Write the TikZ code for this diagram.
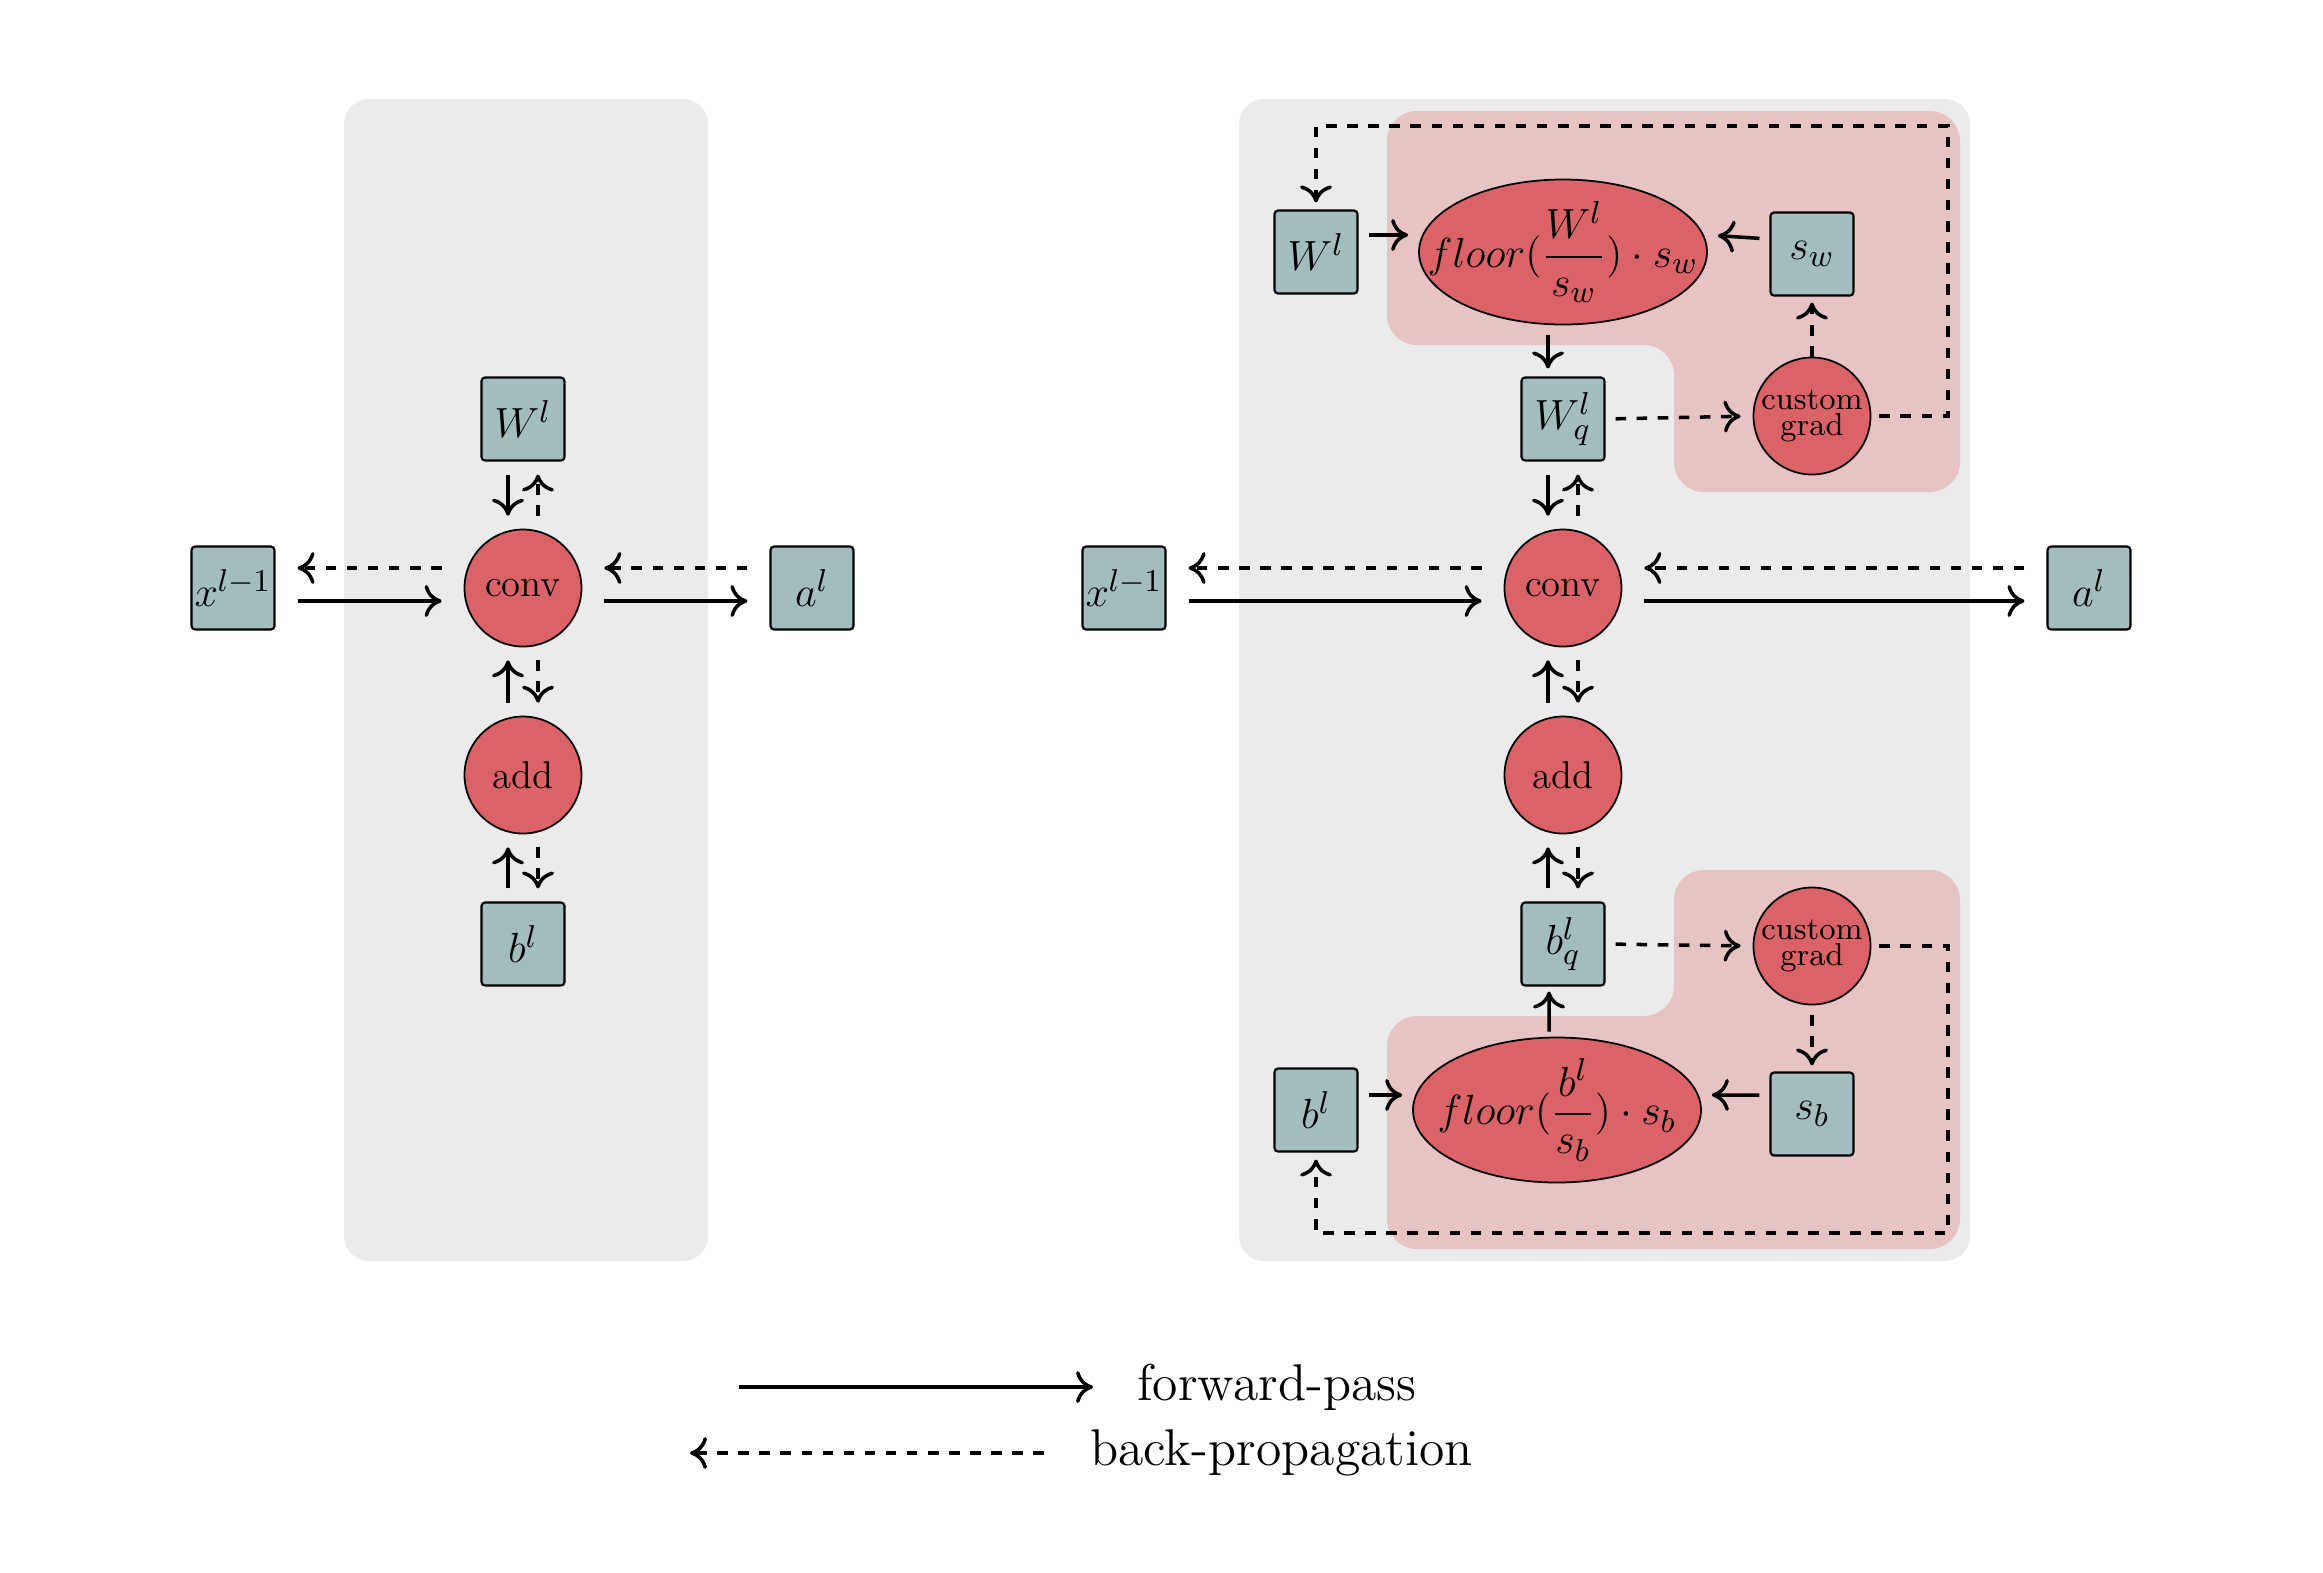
\documentclass[tikz,border=0pt]{standalone}
\usepackage{amsmath}
\usetikzlibrary{arrows.meta,shapes.geometric}

\definecolor{panelgray}{HTML}{EBEBEB}
\definecolor{quantpink}{HTML}{E8C3C3}
\definecolor{opred}{HTML}{DB6368}
\definecolor{vargray}{HTML}{A3BDBE}

\tikzset{
    var/.style={draw, fill=vargray, rounded corners=1pt, minimum size=0.83cm, inner sep=0pt, line width=0.6pt, font=\fontsize{13}{15}\selectfont},
    op/.style={draw, circle, fill=opred, minimum size=1.17cm, inner sep=0pt, line width=0.5pt, font=\fontsize{11}{13}\selectfont},
    grad/.style={op, align=center, font=\fontsize{9}{7.6}\selectfont},
    quant/.style={draw, ellipse, fill=opred, minimum width=2.88cm, minimum height=1.45cm, inner sep=0pt, line width=0.5pt, font=\fontsize{12.75}{15}\selectfont},
    fwd/.style={line width=1pt, -{Computer Modern Rightarrow[length=1.7mm,width=3.2mm]}},
    bwd/.style={fwd, dashed},
}

\begin{document}
\begin{tikzpicture}
    \useasboundingbox (0,0) rectangle (23.23,-15.72);

    % Fondos
    \fill[panelgray, rounded corners=0.25cm] (3.44,-0.99) rectangle (7.08,-12.61);
    \fill[panelgray, rounded corners=0.25cm] (12.39,-0.99) rectangle (19.70,-12.61);
    \fill[quantpink, rounded corners=0.3cm] (13.87,-1.11) -- (19.60,-1.11) -- (19.60,-4.92)
        -- (16.74,-4.92) -- (16.74,-3.45) -- (13.87,-3.45) -- cycle;
    \fill[quantpink, rounded corners=0.3cm] (13.87,-12.49) -- (19.60,-12.49) -- (19.60,-8.70)
        -- (16.74,-8.70) -- (16.74,-10.16) -- (13.87,-10.16) -- cycle;

    % Capa normal
    \node[var] (x1) at (2.33,-5.88) {$x^{l-1}$};
    \node[var] (w1) at (5.23,-4.19) {$W^l$};
    \node[op] (conv1) at (5.23,-5.88) {conv};
    \node[op] (add1) at (5.23,-7.75) {add};
    \node[var] (b1) at (5.23,-9.44) {$b^l$};
    \node[var] (a1) at (8.12,-5.88) {$a^l$};

    % Capa cuantizada
    \node[var] (x2) at (11.24,-5.88) {$x^{l-1}$};
    \node[op] (conv2) at (15.63,-5.88) {conv};
    \node[var] (a2) at (20.89,-5.88) {$a^l$};
    \node[var] (wq) at (15.63,-4.19) {$W_q^l$};
    \node[op] (add2) at (15.63,-7.75) {add};
    \node[var] (bq) at (15.63,-9.44) {$b_q^l$};

    \node[var] (w2) at (13.16,-2.52) {$W^l$};
    \node[quant] (qw) at (15.63,-2.52) {\makebox[0pt]{$floor(\dfrac{W^l}{s_w})\cdot s_w$}};
    \node[var] (sw) at (18.12,-2.54) {$s_w$};
    \node[grad] (gw) at (18.12,-4.16) {custom\\grad};

    \node[var] (b2) at (13.16,-11.10) {$b^l$};
    \node[quant] (qb) at (15.57,-11.10) {\makebox[0pt]{$floor(\dfrac{b^l}{s_b})\cdot s_b$}};
    \node[var] (sb) at (18.12,-11.14) {$s_b$};
    \node[grad] (gb) at (18.12,-9.46) {custom\\grad};

    % Flechas horizontales
    \foreach \src/\op/\dst in {x1/conv1/a1, x2/conv2/a2} {
        \draw[fwd, shorten <=0.22cm, shorten >=0.22cm] ([yshift=-0.13cm]\src.east) -- ([yshift=-0.13cm]\op.west);
        \draw[bwd, shorten <=0.22cm, shorten >=0.22cm] ([yshift=0.2cm]\op.west) -- ([yshift=0.2cm]\src.east);
        \draw[fwd, shorten <=0.22cm, shorten >=0.22cm] ([yshift=-0.13cm]\op.east) -- ([yshift=-0.13cm]\dst.west);
        \draw[bwd, shorten <=0.22cm, shorten >=0.22cm] ([yshift=0.2cm]\dst.west) -- ([yshift=0.2cm]\op.east);
    }

    % Flechas verticales
    \foreach \nodeA/\nodeB in {w1/conv1, wq/conv2} {
        \draw[fwd, shorten <=0.13cm, shorten >=0.13cm] ([xshift=-0.15cm]\nodeA.south) -- ([xshift=-0.15cm]\nodeB.north);
        \draw[bwd, shorten <=0.13cm, shorten >=0.13cm] ([xshift=0.15cm]\nodeB.north) -- ([xshift=0.15cm]\nodeA.south);
    }
    \foreach \nodeA/\nodeB in {conv1/add1, add1/b1, conv2/add2, add2/bq} {
        \draw[fwd, shorten <=0.13cm, shorten >=0.13cm] ([xshift=-0.15cm]\nodeB.north) -- ([xshift=-0.15cm]\nodeA.south);
        \draw[bwd, shorten <=0.13cm, shorten >=0.13cm] ([xshift=0.15cm]\nodeA.south) -- ([xshift=0.15cm]\nodeB.north);
    }

    % Cuantizacion de pesos
    \draw[fwd, shorten <=0.1cm, shorten >=0.1cm] ([yshift=0.17cm]w2.east) -- ([yshift=0.17cm]qw.west);
    \draw[fwd, shorten <=0.1cm, shorten >=0.1cm] ([yshift=0.15cm]sw.west) -- ([yshift=0.17cm]qw.east);
    \draw[fwd, shorten <=0.1cm, shorten >=0.08cm] ([xshift=-0.15cm]qw.south) -- ([xshift=-0.15cm]wq.north);
    \draw[bwd, shorten <=0.1cm, shorten >=0.12cm] (wq.east) -- (gw.west);
    \draw[bwd, shorten >=0.06cm] (gw.north) -- (sw.south);
    \coordinate (tr) at (19.48,-1.26);
    \draw[bwd, shorten <=0.08cm, shorten >=0.07cm] (gw.east) -| (tr) -| (w2.north);

    % Cuantizacion de bias
    \draw[fwd, shorten <=0.1cm, shorten >=0.1cm] ([yshift=0.15cm]b2.east) -- ([yshift=0.15cm]qb.west);
    \draw[fwd, shorten <=0.1cm, shorten >=0.1cm] ([yshift=0.19cm]sb.west) -- ([yshift=0.15cm]qb.east);
    \draw[fwd, shorten <=0.05cm, shorten >=0.05cm] ([xshift=-0.08cm]qb.north) -- ([xshift=-0.14cm]bq.south);
    \draw[bwd, shorten <=0.1cm, shorten >=0.12cm] (bq.east) -- (gb.west);
    \draw[bwd, shorten <=0.1cm, shorten >=0.06cm] (gb.south) -- (sb.north);
    \coordinate (br) at (19.48,-12.33);
    \draw[bwd, shorten <=0.08cm, shorten >=0.07cm] (gb.east) -| (br) -| (b2.south);

    % Leyenda
    \node[anchor=west, font=\fontsize{14.7}{17}\selectfont] (fwdtxt) at (11.25,-13.87) {forward-pass};
    \node[anchor=west, font=\fontsize{14.7}{17}\selectfont] (bwdtxt) at (10.78,-14.53) {back-propagation};
    \coordinate (fwdstart) at (7.39,-13.87);
    \coordinate (bwdend) at (6.90,-14.53);
    \draw[fwd, shorten >=0.32cm] (fwdstart) -- (fwdtxt.west);
    \draw[bwd, shorten <=0.34cm] (bwdtxt.west) -- (bwdend);
\end{tikzpicture}
\end{document}
